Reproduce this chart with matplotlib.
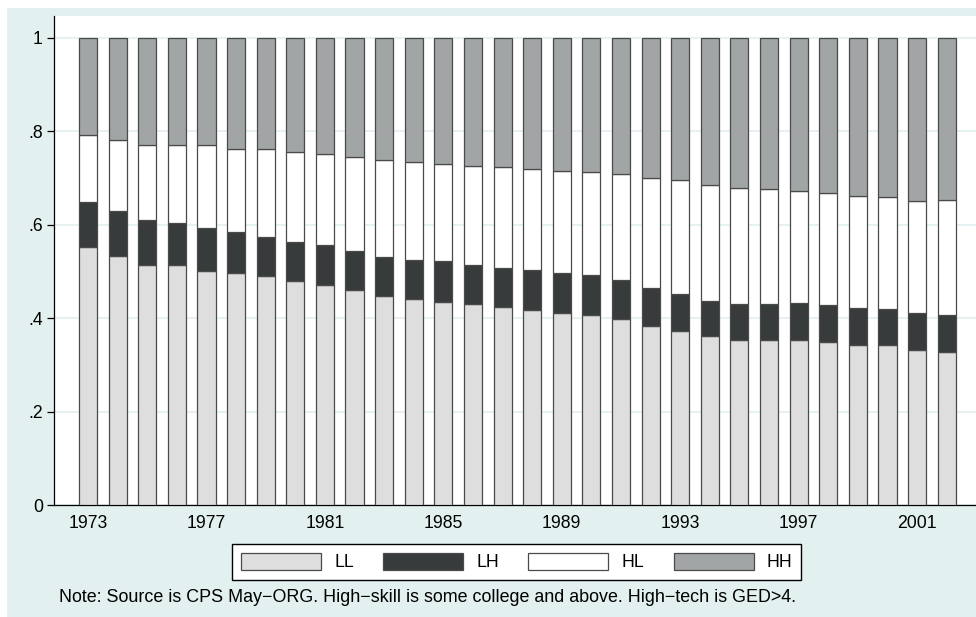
import numpy as np
import matplotlib.pyplot as plt
import matplotlib
from matplotlib.patches import Rectangle

font = {'size': 12.7, 'family': ['Liberation Sans', 'DejaVu Sans']}
matplotlib.rc('font', **font)

# cumulative shares (top of each segment)
years = np.arange(1973, 2003)
ll_top = [0.551, 0.533, 0.513, 0.514, 0.501, 0.496, 0.490, 0.479, 0.471, 0.460,
          0.447, 0.441, 0.435, 0.429, 0.424, 0.417, 0.411, 0.406, 0.397, 0.382,
          0.372, 0.362, 0.353, 0.352, 0.353, 0.348, 0.343, 0.342, 0.332, 0.327]
lh_top = [0.649, 0.629, 0.610, 0.603, 0.593, 0.583, 0.573, 0.563, 0.557, 0.543,
          0.530, 0.525, 0.521, 0.514, 0.508, 0.502, 0.496, 0.491, 0.481, 0.464,
          0.452, 0.437, 0.430, 0.429, 0.432, 0.427, 0.422, 0.419, 0.411, 0.407]
hl_top = [0.792, 0.781, 0.769, 0.771, 0.769, 0.761, 0.761, 0.755, 0.751, 0.744,
          0.737, 0.733, 0.730, 0.726, 0.724, 0.719, 0.714, 0.712, 0.707, 0.699,
          0.695, 0.685, 0.679, 0.676, 0.672, 0.667, 0.660, 0.658, 0.651, 0.653]
hh_top = [1.0] * len(years)

groups = ['LL', 'LH', 'HL', 'HH']
colors = ['#dedede', '#373b3b', '#ffffff', '#a2a5a5']
xticks = [1973, 1977, 1981, 1985, 1989, 1993, 1997, 2001]
yticks = [0, 0.2, 0.4, 0.6, 0.8, 1.0]
ylabels = ['0', '.2', '.4', '.6', '.8', '1']
note = 'Note: Source is CPS May\u2212ORG. High\u2212skill is some college and above. High\u2212tech is GED>4.'

fig = plt.figure(figsize=(9.76, 6.17), dpi=100)
bg = '#e2f0f0'
fig.patches.append(Rectangle((7 / 976, 0), 1 - 7 / 976, 1 - 8 / 617,
                             transform=fig.transFigure, facecolor=bg,
                             edgecolor='none', zorder=-10))

ax = fig.add_axes([54 / 976, 112 / 617, 1 - 54 / 976, 489 / 617])
ax.set_facecolor('white')

tops = [np.array(ll_top), np.array(lh_top), np.array(hl_top), np.array(hh_top)]
bottom = np.zeros(len(years))
for name, top, col in zip(groups, tops, colors):
    ax.bar(years, top - bottom, bottom=bottom, width=0.61, color=col,
           edgecolor='#4a4a4a', linewidth=0.9, label=name, zorder=3)
    bottom = top

ax.set_xlim(1971.85, 2002.99)
ax.set_ylim(0, 1.046)
ax.set_yticks(yticks)
ax.set_yticklabels(ylabels)
ax.set_xticks(xticks)
ax.tick_params(axis='y', length=5, width=0.9, pad=3)
ax.tick_params(axis='x', length=0, pad=7)
ax.yaxis.grid(True, color='#e2f0f0', linewidth=1.2, zorder=0)
ax.set_axisbelow(True)
for s in ['top', 'right']:
    ax.spines[s].set_visible(False)
for s in ['left', 'bottom']:
    ax.spines[s].set_linewidth(0.9)

leg = fig.legend(loc='center', bbox_to_anchor=(516.7 / 976, 1 - 562 / 617),
                 ncol=4, handlelength=4.54, handleheight=1.19, handletextpad=0.74,
                 columnspacing=1.66, borderpad=0.5, fancybox=False,
                 edgecolor='black', framealpha=1)
leg.get_frame().set_linewidth(1.0)

fig.text(59 / 976, 1 - 598 / 617, note, ha='left', va='center', fontsize=12.85)

plt.savefig('out.png', dpi=100)
